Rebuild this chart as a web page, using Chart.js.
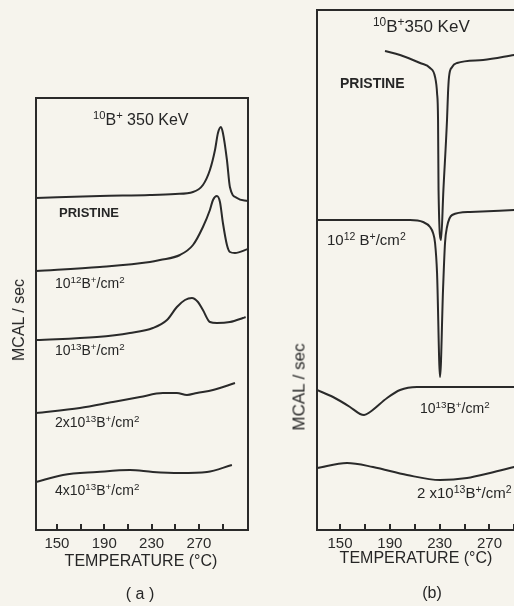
<!DOCTYPE html>
<html>
<head>
<meta charset="utf-8">
<script src="https://cdn.jsdelivr.net/npm/chart.js@4.4.1/dist/chart.umd.min.js"></script>
<style>
html, body { margin: 0; padding: 0; width: 514px; height: 606px; overflow: hidden; background: #f6f4ed; }
body { position: relative; font-family: "Liberation Sans", Arial, sans-serif; color: #262626; }
canvas { position: absolute; top: 0; }
#chartA { left: 0; }
#chartB { left: 290px; }
.lbl { position: absolute; white-space: nowrap; line-height: 1; }
.lbl sup { font-size: 70%; vertical-align: 0; position: relative; top: -0.5em; }
.b { font-weight: bold; }
.c { transform: translateX(-50%); }
.rot { transform: translate(-50%, -50%) rotate(-90deg); }
</style>
</head>
<body>
<canvas id="chartA" width="260" height="606"></canvas>
<canvas id="chartB" width="230" height="606"></canvas>

<!-- panel (a) text -->
<div class="lbl" style="left:93px;top:112px;font-size:16px"><sup>10</sup>B<sup>+</sup> 350 KeV</div>
<div class="lbl b" style="left:59px;top:206px;font-size:13px">PRISTINE</div>
<div class="lbl" style="left:55px;top:276px;font-size:14px">10<sup>12</sup>B<sup>+</sup>/cm<sup>2</sup></div>
<div class="lbl" style="left:55px;top:343px;font-size:14px">10<sup>13</sup>B<sup>+</sup>/cm<sup>2</sup></div>
<div class="lbl" style="left:55px;top:415px;font-size:14px">2x10<sup>13</sup>B<sup>+</sup>/cm<sup>2</sup></div>
<div class="lbl" style="left:55px;top:483px;font-size:14px">4x10<sup>13</sup>B<sup>+</sup>/cm<sup>2</sup></div>
<div class="lbl rot" style="left:19px;top:320px;font-size:16px">MCAL / sec</div>
<div class="lbl c" style="left:141px;top:553px;font-size:16px">TEMPERATURE (°C)</div>
<div class="lbl c" style="left:140px;top:586px;font-size:16px">( a )</div>

<!-- panel (b) text -->
<div class="lbl" style="left:373px;top:18px;font-size:17px"><sup>10</sup>B<sup>+</sup>350 KeV</div>
<div class="lbl b" style="left:340px;top:76px;font-size:14px">PRISTINE</div>
<div class="lbl" style="left:327px;top:232px;font-size:15px">10<sup>12</sup> B<sup>+</sup>/cm<sup>2</sup></div>
<div class="lbl" style="left:420px;top:401px;font-size:14px">10<sup>13</sup>B<sup>+</sup>/cm<sup>2</sup></div>
<div class="lbl" style="left:417px;top:485px;font-size:15px">2 x10<sup>13</sup>B<sup>+</sup>/cm<sup>2</sup></div>
<div class="lbl rot" style="left:299px;top:387px;font-size:17px">MCAL / sec</div>
<div class="lbl c" style="left:416px;top:550px;font-size:16px">TEMPERATURE (°C)</div>
<div class="lbl c" style="left:432px;top:585px;font-size:16px">(b)</div>

<script>
const INK = '#2a2a2a';

// x axis, both panels (°C)
const tickTemps = [150, 170, 190, 210, 230, 250, 270, 290];
const labelTemps = [150, 190, 230, 270];

// panel (a) - exotherm peaks, MCAL/sec in arbitrary units (stacked offsets)
const tempA_pristine = [132.3, 186.3, 228.6, 250.0, 265.0, 273.4, 279.3, 283.6, 286.1, 288.6, 290.3, 293.7, 296.2, 302.2, 311.5];
const mcalA_pristine = [33.2, 33.4, 33.5, 33.6, 33.8, 34.5, 36.0, 38.0, 39.7, 40.3, 39.7, 37.0, 34.3, 33.2, 32.9];
const tempA_1e12 = [132.3, 186.3, 228.6, 237.1, 254.0, 265.0, 273.4, 279.3, 281.9, 285.2, 287.8, 290.3, 293.7, 296.2, 300.5, 311.5];
const mcalA_1e12 = [25.9, 26.3, 26.8, 27.0, 27.5, 28.5, 30.3, 32.0, 33.0, 33.4, 32.8, 30.7, 28.5, 27.8, 27.7, 28.1];
const tempA_1e13 = [132.3, 183.8, 211.7, 231.1, 243.0, 251.4, 258.2, 264.1, 269.2, 273.4, 279.3, 285.2, 296.2, 307.2, 309.5];
const mcalA_1e13 = [19.0, 19.3, 19.7, 20.2, 21.0, 22.3, 23.0, 23.2, 22.8, 22.0, 20.8, 20.7, 20.8, 21.2, 21.3];
const tempA_2e13 = [132.3, 169.4, 197.3, 220.2, 239.6, 251.4, 259.9, 268.3, 281.9, 300.5];
const mcalA_2e13 = [11.7, 12.2, 12.8, 13.3, 13.7, 13.7, 13.5, 13.7, 14.0, 14.7];
const tempA_4e13 = [132.3, 155.1, 183.8, 211.7, 231.1, 254.0, 276.8, 297.9];
const mcalA_4e13 = [4.8, 5.5, 5.8, 6.0, 5.8, 5.7, 5.8, 6.5];

// panel (b) - endotherm dips
const tempB_pristine = [186.1, 198.2, 214.3, 222.3, 226.3, 227.9, 228.7, 229.1, 231.1, 233.0, 235.9, 236.7, 237.5, 240.0, 244.0, 264.9, 289.8];
const mcalB_pristine = [47.9, 47.5, 46.7, 46.2, 45.3, 43.7, 41.0, 34.0, 29.0, 34.0, 41.0, 43.7, 45.3, 46.3, 46.7, 47.0, 47.5];
const tempB_1e12 = [131.5, 206.2, 216.7, 222.3, 224.7, 226.3, 227.9, 230.3, 232.7, 234.3, 235.9, 240.0, 254.4, 289.8];
const mcalB_1e12 = [31.0, 31.0, 30.8, 30.3, 29.7, 28.7, 25.7, 15.3, 24.0, 28.7, 30.3, 31.5, 31.8, 32.0];
const tempB_1e13 = [131.5, 144.4, 158.0, 166.1, 169.3, 174.1, 187.8, 198.2, 211.8, 289.8];
const mcalB_1e13 = [14.0, 13.3, 12.3, 11.6, 11.5, 11.8, 13.2, 14.0, 14.3, 14.3];
const tempB_2e13 = [131.5, 155.6, 176.5, 203.8, 230.3, 252.0, 270.5, 289.8];
const mcalB_2e13 = [6.2, 6.7, 6.3, 5.5, 5.0, 5.2, 5.7, 6.3];

function series(temps, vals) {
    return {
        data: temps.map((t, i) => ({ x: t, y: vals[i] })),
        borderColor: INK,
        borderWidth: 2,
        pointRadius: 0,
        cubicInterpolationMode: 'monotone'
    };
}

// box around the plot + small ticks pointing up from the temperature axis
const framePlugin = {
    id: 'frame',
    afterDatasetsDraw(chart) {
        const { ctx, chartArea: a, scales: { x } } = chart;
        ctx.save();
        ctx.strokeStyle = INK;
        ctx.lineWidth = 2;
        ctx.strokeRect(a.left, a.top, a.right - a.left, a.bottom - a.top);
        ctx.beginPath();
        x.ticks.forEach(t => {
            const px = Math.round(x.getPixelForValue(t.value));
            ctx.moveTo(px, a.bottom);
            ctx.lineTo(px, a.bottom - 6);
        });
        ctx.stroke();
        ctx.restore();
    }
};

function makeChart(id, datasets, xMin, xMax, yMax, pad) {
    return new Chart(document.getElementById(id), {
        type: 'line',
        data: { datasets: datasets },
        options: {
            responsive: false,
            animation: false,
            layout: { padding: pad },
            plugins: { legend: { display: false }, tooltip: { enabled: false } },
            scales: {
                x: {
                    type: 'linear',
                    min: xMin,
                    max: xMax,
                    afterBuildTicks: s => { s.ticks = tickTemps.map(v => ({ value: v })); },
                    afterFit: s => { s.height = 30; },
                    grid: { display: false, drawTicks: false },
                    border: { display: false },
                    ticks: {
                        autoSkip: false,
                        maxRotation: 0,
                        padding: 5,
                        color: INK,
                        font: { family: 'Liberation Sans', size: 15 },
                        callback: v => labelTemps.includes(v) ? String(v) : ''
                    }
                },
                y: { display: false, min: 0, max: yMax }
            }
        },
        plugins: [framePlugin]
    });
}

makeChart('chartA', [
    series(tempA_pristine, mcalA_pristine),
    series(tempA_1e12, mcalA_1e12),
    series(tempA_1e13, mcalA_1e13),
    series(tempA_2e13, mcalA_2e13),
    series(tempA_4e13, mcalA_4e13)
], 132.3, 311.5, 43.2, { left: 36, right: 12, top: 98, bottom: 46 });

makeChart('chartB', [
    series(tempB_pristine, mcalB_pristine),
    series(tempB_1e12, mcalB_1e12),
    series(tempB_1e13, mcalB_1e13),
    series(tempB_2e13, mcalB_2e13)
], 131.5, 292.1, 52, { left: 27, right: 3, top: 10, bottom: 46 });
</script>
</body>
</html>
